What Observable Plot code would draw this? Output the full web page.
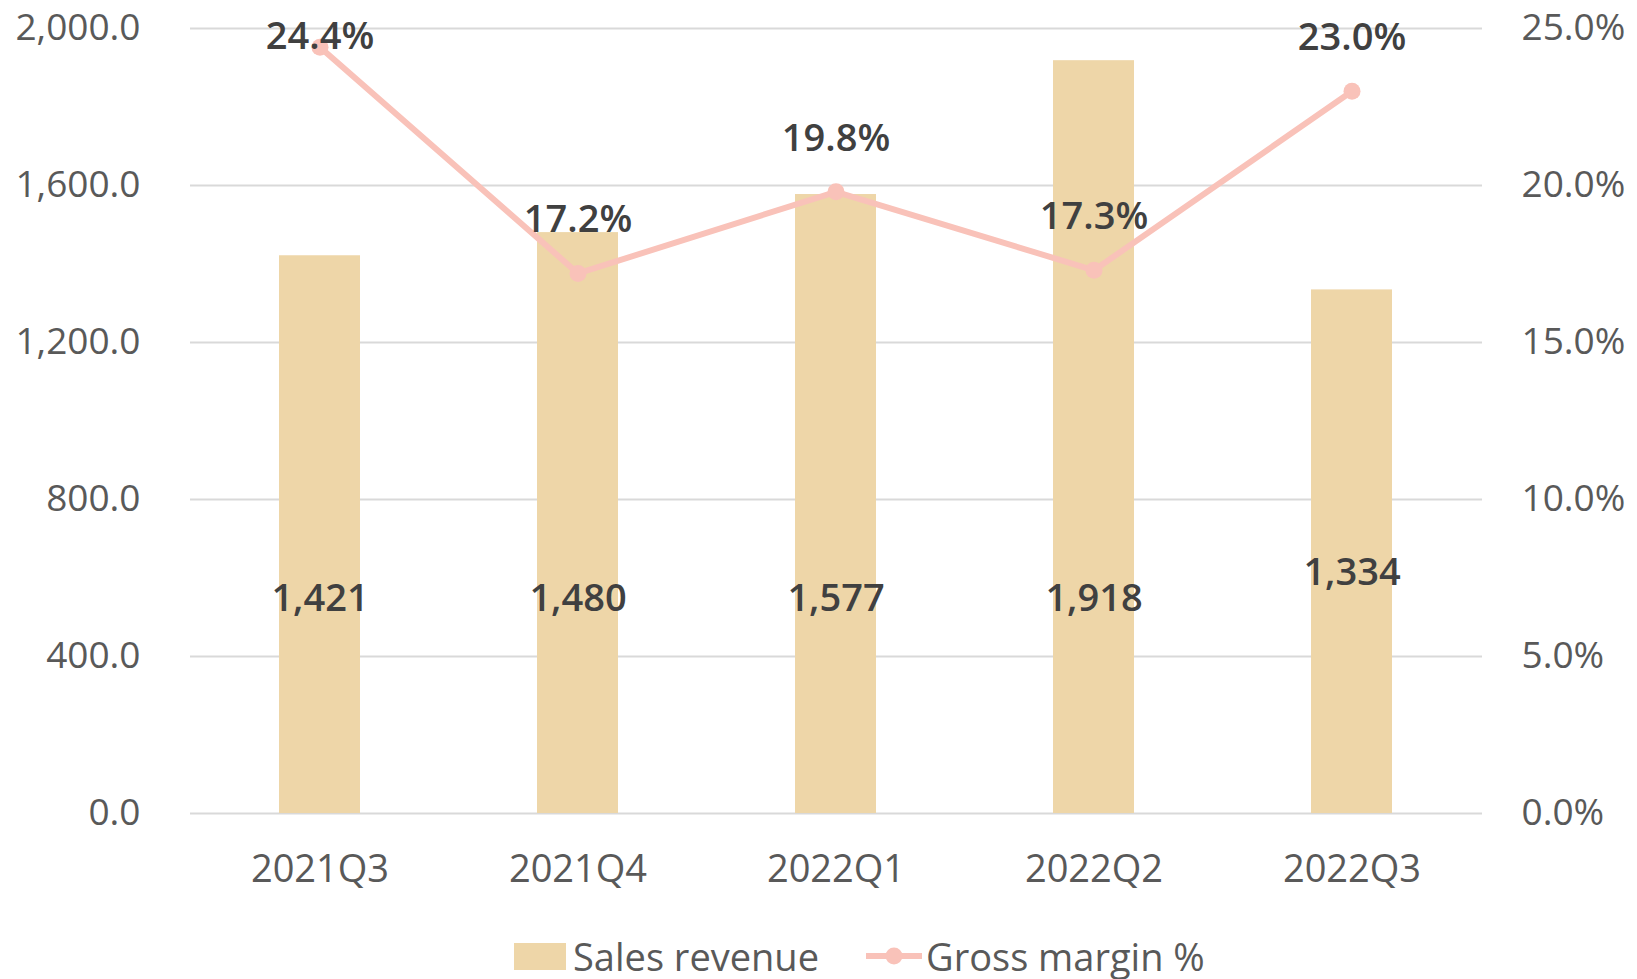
<!DOCTYPE html>
<html>
<head>
<meta charset="utf-8">
<script src="https://cdn.jsdelivr.net/npm/d3@7"></script>
<script src="https://cdn.jsdelivr.net/npm/@observablehq/plot@0.6"></script>
<style>
  html, body { margin: 0; padding: 0; background: #fff; }
  body { width: 1637px; height: 979px; overflow: hidden; font-family: "Open Sans", "Noto Sans", sans-serif; }
  #legend { display: flex; align-items: center; margin-left: 514px; margin-top: 30px; height: 52px; font-size: 38px; color: #595959; }
  .sw { width: 52px; height: 27px; background: #EED6A8; margin-right: 7px; }
  .item { display: flex; align-items: center; }
</style>
</head>
<body>
<div id="chart"></div>
<div id="legend"></div>
<script>
const quarters = ["2021Q3", "2021Q4", "2022Q1", "2022Q2", "2022Q3"];
const sales = [1421, 1480, 1577, 1918, 1334];
const margin = [24.4, 17.2, 19.8, 17.3, 23.0];
const leftTicks = [0, 400, 800, 1200, 1600, 2000];
const seriesNames = ["Sales revenue", "Gross margin %"];

const barColor = "#EED6A8";
const lineColor = "#F9C2B9";
const k = 2000 / 25; // percent -> sales-axis units

const data = quarters.map((q, i) => ({q, sales: sales[i], margin: margin[i], i}));

// label above the point, kept inside the chart's top edge
const labelPos = d => Math.min(d.margin + 1.7, 24.75) * k;

const chart = Plot.plot({
  width: 1637,
  height: 900,
  marginTop: 28,
  marginBottom: 87,
  marginLeft: 190,
  marginRight: 155,
  style: {fontFamily: "'Open Sans', 'Noto Sans', sans-serif", fontSize: "37px", color: "#595959", background: "#fff"},
  x: {domain: quarters, paddingInner: 0.686, paddingOuter: 0.343},
  y: {domain: [0, 2000]},
  marks: [
    Plot.ruleY(leftTicks, {stroke: "#D9D9D9", strokeWidth: 2}),
    Plot.barY(data, {x: "q", y: "sales", fill: barColor}),
    Plot.text(data.filter(d => d.i < 4), {x: "q", y: 0, text: d => d3.format(",")(d.sales), dy: -215, fill: "#404040", fontSize: 38, fontWeight: 600}),
    Plot.text(data.filter(d => d.i === 4), {x: "q", y: 0, text: d => d3.format(",")(d.sales), dy: -241, fill: "#404040", fontSize: 38, fontWeight: 600}),
    Plot.line(data, {x: "q", y: d => d.margin * k, stroke: lineColor, strokeWidth: 6}),
    Plot.dot(data, {x: "q", y: d => d.margin * k, r: 8.5, fill: lineColor}),
    Plot.text(data, {x: "q", y: labelPos, text: d => d.margin.toFixed(1) + "%", fill: "#404040", fontSize: 38, fontWeight: 600}),
    Plot.axisX({tickSize: 0, tickPadding: 42, label: null, fill: "#595959", fontSize: 38}),
    Plot.axisY({ticks: leftTicks, tickFormat: d3.format(",.1f"), tickSize: 0, tickPadding: 50, label: null, fill: "#595959", fontSize: 37}),
    Plot.axisY({anchor: "right", ticks: leftTicks, tickFormat: d => (d / k).toFixed(1) + "%", tickSize: 0, tickPadding: 39, label: null, fill: "#595959", fontSize: 37})
  ]
});
document.getElementById("chart").appendChild(chart);

const legend = document.getElementById("legend");
legend.innerHTML = `
  <div class="item"><div class="sw"></div><span>${seriesNames[0]}</span></div>
  <div class="item" style="margin-left:47px">
    <svg width="56" height="20" style="margin-right:4px"><line x1="0" y1="10" x2="56" y2="10" stroke="${lineColor}" stroke-width="6" stroke-linecap="round"/><circle cx="28" cy="10" r="8.5" fill="${lineColor}"/></svg>
    <span>${seriesNames[1]}</span>
  </div>`;
</script>
</body>
</html>
